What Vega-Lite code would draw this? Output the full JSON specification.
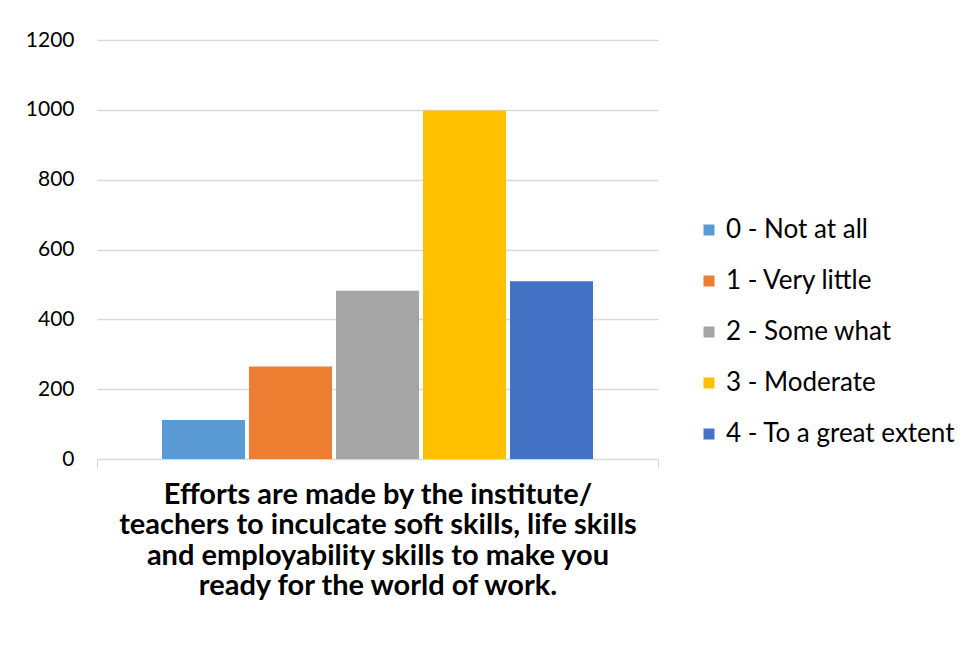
{
  "$schema": "https://vega.github.io/schema/vega-lite/v6.json",
  "width": 561,
  "height": 419,
  "autosize": {"type": "none"},
  "padding": {"left": 97, "top": 40, "right": 321, "bottom": 187},
  "background": "white",
  "config": {"view": {"stroke": null}, "font": "Lato"},
  "data": {
    "values": [
      {"question": "Efforts are made by the institute/ teachers to inculcate soft skills, life skills and employability skills to make you ready for the world of work.", "response": "0 - Not at all", "count": 112},
      {"question": "Efforts are made by the institute/ teachers to inculcate soft skills, life skills and employability skills to make you ready for the world of work.", "response": "1 - Very little", "count": 265},
      {"question": "Efforts are made by the institute/ teachers to inculcate soft skills, life skills and employability skills to make you ready for the world of work.", "response": "2 - Some what", "count": 482},
      {"question": "Efforts are made by the institute/ teachers to inculcate soft skills, life skills and employability skills to make you ready for the world of work.", "response": "3 - Moderate", "count": 998},
      {"question": "Efforts are made by the institute/ teachers to inculcate soft skills, life skills and employability skills to make you ready for the world of work.", "response": "4 - To a great extent", "count": 509}
    ]
  },
  "mark": {"type": "bar"},
  "encoding": {
    "x": {
      "field": "question",
      "type": "nominal",
      "scale": {"paddingInner": 0, "paddingOuter": 0},
      "axis": {
        "title": null,
        "labelAngle": 0,
        "labelExpr": "datum.label ? ['Efforts are made by the institute/', 'teachers to inculcate soft skills, life skills', 'and employability skills to make you', 'ready for the world of work.'] : ''",
        "labelFontSize": 29,
        "labelFontWeight": "bold",
        "labelColor": "#000000",
        "labelLineHeight": 30.5,
        "labelBaseline": "top",
        "labelPadding": 12,
        "labelLimit": 0,
        "tickBand": "extent",
        "tickColor": "#d9d9d9",
        "tickSize": 9,
        "domainColor": "#d9d9d9"
      }
    },
    "xOffset": {
      "field": "response",
      "type": "nominal",
      "scale": {"paddingInner": 0.046, "paddingOuter": 0.747}
    },
    "y": {
      "field": "count",
      "type": "quantitative",
      "scale": {"domain": [0, 1200]},
      "axis": {
        "title": null,
        "values": [0, 200, 400, 600, 800, 1000, 1200],
        "format": "d",
        "domain": false,
        "ticks": false,
        "labelPadding": 23,
        "labelFontSize": 21,
        "labelColor": "#000000",
        "gridColor": "#d9d9d9",
        "gridWidth": 1.3
      }
    },
    "color": {
      "field": "response",
      "type": "nominal",
      "scale": {
        "domain": ["0 - Not at all", "1 - Very little", "2 - Some what", "3 - Moderate", "4 - To a great extent"],
        "range": ["#5B9BD5", "#ED7D31", "#A5A5A5", "#FFC000", "#4472C4"]
      },
      "legend": {
        "title": null,
        "orient": "none",
        "legendX": 599,
        "legendY": 177,
        "symbolType": "square",
        "symbolSize": 121,
        "symbolStrokeWidth": 0,
        "labelFontSize": 26,
        "labelColor": "#000000",
        "labelOffset": 4,
        "rowPadding": 25,
        "labelLimit": 0
      }
    }
  }
}
